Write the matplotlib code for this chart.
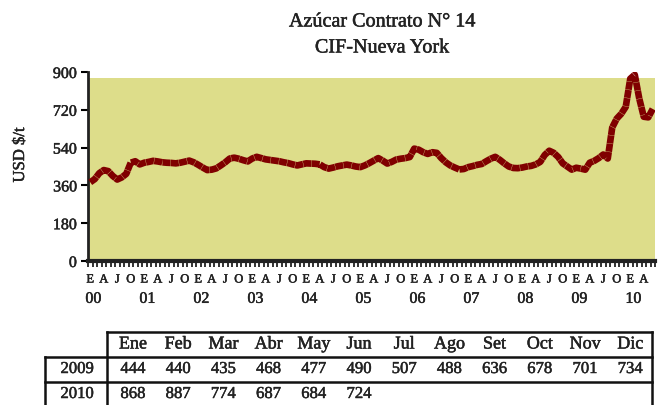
import matplotlib
matplotlib.use("Agg")
import matplotlib.pyplot as plt
import matplotlib.patheffects as pe
import numpy as np

# monthly CIF New York price, USD/t, Jan 2000 - Jun 2010
precios_2000_2008 = [
    375, 390, 418, 433, 428, 405, 388, 398, 415, 468, 475, 460,   # 2000
    468, 472, 477, 474, 470, 468, 467, 465, 468, 473, 478, 470,   # 2001
    458, 445, 433, 435, 441, 455, 470, 488, 492, 487, 480, 474,   # 2002
    488, 496, 490, 484, 481, 478, 475, 470, 466, 460, 455, 460,   # 2003
    465, 464, 463, 460, 447, 440, 445, 451, 455, 459, 455, 450,   # 2004
    447, 455, 466, 478, 490, 478, 464, 472, 483, 487, 490, 495,   # 2005
    535, 530, 518, 510, 518, 515, 490, 470, 455, 445, 436, 438,   # 2006
    447, 452, 458, 462, 475, 487, 496, 482, 465, 450, 443, 442,   # 2007
    445, 450, 453, 460, 472, 505, 525, 515, 495, 465, 450, 435,   # 2008
]
meses = ["Ene", "Feb", "Mar", "Abr", "May", "Jun",
         "Jul", "Ago", "Set", "Oct", "Nov", "Dic"]
precios_2009 = [444, 440, 435, 468, 477, 490, 507, 488, 636, 678, 701, 734]
precios_2010 = [868, 887, 774, 687, 684, 724]
letras_trim = ["E", "A", "J", "O"]
anios = ["00", "01", "02", "03", "04", "05", "06", "07", "08", "09", "10"]
yticks = [0, 180, 360, 540, 720, 900]

serie = np.array(precios_2000_2008 + precios_2009 + precios_2010)
n = len(serie)
x = np.arange(n)

W, H = 658, 405
plt.rcParams['font.family'] = ['Liberation Serif', 'DejaVu Serif']
col_txt = '#222222'
grueso = [pe.withStroke(linewidth=0.35, foreground=col_txt)]

fig = plt.figure(figsize=(W / 100, H / 100), dpi=100)

ax = fig.add_axes([88 / W, 1 - 261 / H, (655 - 88) / W, 189 / H])
ax.set_facecolor('none')
ax.add_patch(plt.Rectangle((-0.5, 0), n, 872, color='#DDDD8A', zorder=0, lw=0))
ax.plot(x, serie, color='#800000', lw=4.8, dashes=(1.2, 0.05),
        solid_capstyle='butt', dash_capstyle='butt', zorder=3)

ax.set_xlim(-0.5, n - 0.5)
ax.set_ylim(0, 900)
ax.set_yticks(yticks)
ax.set_yticklabels([str(v) for v in yticks], fontsize=11.5, color=col_txt)
ax.tick_params(axis='y', direction='out', length=5, width=1.5, pad=3)

ax.set_xticks(np.arange(0, n, 3))
ax.set_xticklabels([letras_trim[(i // 3) % 4] for i in range(0, n, 3)],
                   fontsize=9, color=col_txt)
ax.set_xticks(np.arange(-0.5, n, 1), minor=True)
ax.tick_params(axis='x', which='major', length=0, pad=9)
ax.tick_params(axis='x', which='minor', direction='out', length=4,
               width=1.3, color='#222222')
for t in ax.get_yticklabels() + ax.get_xticklabels():
    t.set_path_effects(grueso)

for k, a in enumerate(anios):
    ax.text(12 * k + 0.7, -0.20, a, transform=ax.get_xaxis_transform(),
            ha='center', va='center', fontsize=11.5, color=col_txt,
            path_effects=grueso)

for s in ['top', 'right']:
    ax.spines[s].set_visible(False)
ax.spines['left'].set_linewidth(2)
ax.spines['bottom'].set_linewidth(3)
ax.spines['left'].set_color('#222222')
ax.spines['bottom'].set_color('#222222')

fig.text(20 / W, 1 - 155 / H, 'USD $/t', rotation=90, ha='center',
         va='center', fontsize=12, color=col_txt, path_effects=grueso)

fig.text(382 / W, 1 - 22 / H, 'Azúcar Contrato N° 14', ha='center',
         va='center', fontsize=14.5, color=col_txt, path_effects=grueso)
fig.text(382 / W, 1 - 48 / H, 'CIF-Nueva York', ha='center',
         va='center', fontsize=14.5, color=col_txt, path_effects=grueso)

# table drawn in pixel space
tab = fig.add_axes([0, 0, 1, 1])
tab.set_xlim(0, W)
tab.set_ylim(H, 0)
tab.axis('off')
lk = dict(color='#111111', lw=1.8)
tab.plot([107, 652], [332, 332], **lk)
tab.plot([45, 652], [357, 357], **lk)
tab.plot([45, 652], [382, 382], **lk)
tab.plot([107, 107], [332, 405], **lk)
tab.plot([652, 652], [332, 405], **lk)
tab.plot([45, 45], [357, 405], **lk)

cx = 133 + 45.2 * np.arange(12)
tk = dict(ha='center', va='center', color=col_txt, path_effects=grueso)
for c, m in zip(cx, meses):
    tab.text(c, 344, m, fontsize=13, **tk)
tab.text(77, 369, '2009', fontsize=12, **tk)
tab.text(77, 394, '2010', fontsize=12, **tk)
for c, v in zip(cx, precios_2009):
    tab.text(c, 369, str(v), fontsize=12, **tk)
for c, v in zip(cx, precios_2010):
    tab.text(c, 394, str(v), fontsize=12, **tk)

fig.savefig('out.png', dpi=100)
